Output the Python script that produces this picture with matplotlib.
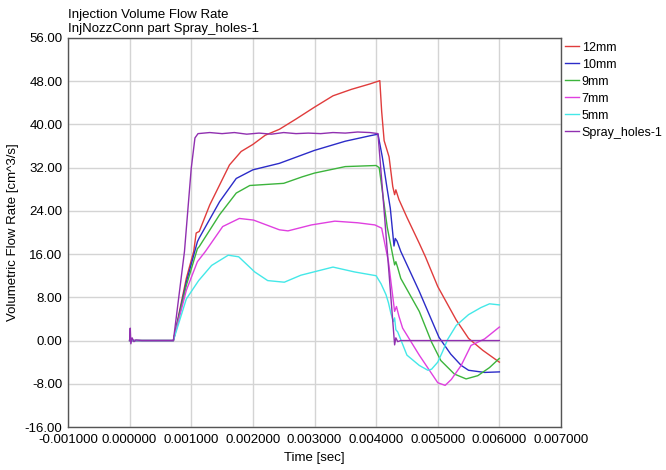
import matplotlib
matplotlib.use("Agg")
import matplotlib.pyplot as plt
from matplotlib.ticker import FormatStrFormatter, MultipleLocator

plt.rcParams['font.family'] = ['Liberation Sans', 'DejaVu Sans']

# Data (time in sec, flow in cm^3/s)
t_12 = [0, 0.00071, 0.00092, 0.00104, 0.00108, 0.00113, 0.0013, 0.00146, 0.00162, 0.00181,
        0.002, 0.0022, 0.00243, 0.0027, 0.003, 0.0033, 0.0036, 0.0039, 0.00406, 0.00409,
        0.00413, 0.00421, 0.00427, 0.0043, 0.00432, 0.00437, 0.0045, 0.0047, 0.0048, 0.005,
        0.0053, 0.0055, 0.00573, 0.006]
v_12 = [0, 0, 11.5, 16.5, 19.9, 20.2, 25.1, 28.8, 32.5, 35.0,
        36.3, 38.0, 39.1, 41.0, 43.2, 45.3, 46.5, 47.5, 48.1, 42.4,
        37.0, 34.0, 28.5, 27.0, 27.9, 26.1, 22.8, 18.0, 15.5, 10.0,
        3.8, 0.4, -1.8, -4.0]

t_10 = [0, 0.00071, 0.00092, 0.0011, 0.00113, 0.00146, 0.00173, 0.002, 0.00243, 0.003,
        0.0035, 0.0039, 0.00403, 0.0041, 0.00418, 0.00423, 0.00429, 0.00431, 0.00434, 0.0044,
        0.0047, 0.00502, 0.00521, 0.00538, 0.0055, 0.00576, 0.006]
v_10 = [0, 0, 10.8, 18.3, 19.0, 25.7, 30.0, 31.6, 32.8, 35.2,
        36.9, 37.9, 38.2, 34.0, 28.0, 24.5, 17.5, 18.9, 18.4, 16.5,
        9.1, 0.6, -2.5, -4.6, -5.5, -5.9, -5.8]

t_9 = [0, 0.00071, 0.00092, 0.0011, 0.00113, 0.00146, 0.00173, 0.00195, 0.0025, 0.0028,
       0.003, 0.0035, 0.004, 0.00405, 0.00412, 0.00418, 0.0043, 0.00432, 0.00435, 0.0044,
       0.0047, 0.0049, 0.00505, 0.00527, 0.00546, 0.00565, 0.00584, 0.006]
v_9 = [0, 0, 10.2, 17.0, 17.4, 23.3, 27.3, 28.7, 29.1, 30.3,
       31.0, 32.2, 32.4, 32.0, 26.0, 21.0, 14.0, 14.6, 13.5, 11.5,
       5.4, -0.3, -3.7, -6.2, -7.1, -6.5, -5.0, -3.3]

t_7 = [0, 0.00071, 0.00092, 0.0011, 0.00123, 0.00151, 0.00178, 0.00201, 0.00243, 0.00257,
       0.00295, 0.00333, 0.0037, 0.00398, 0.00409, 0.0042, 0.0043, 0.00433, 0.00437, 0.00443,
       0.0047, 0.005, 0.00512, 0.00522, 0.00538, 0.00554, 0.00576, 0.006]
v_7 = [0, 0, 9.3, 14.6, 16.5, 21.1, 22.6, 22.3, 20.5, 20.3,
       21.4, 22.1, 21.8, 21.4, 20.8, 14.6, 5.4, 6.3, 4.5, 2.3,
       -2.7, -7.8, -8.3, -7.2, -4.6, -0.9, 0.3, 2.5]

t_5 = [0, 0.00071, 0.00092, 0.00112, 0.00133, 0.0016, 0.00177, 0.00203, 0.00224, 0.00251,
       0.00278, 0.0033, 0.00365, 0.004, 0.00408, 0.00416, 0.0042, 0.00424, 0.00428, 0.0043,
       0.00432, 0.00435, 0.0045, 0.0047, 0.00484, 0.0049, 0.005, 0.00508, 0.00516, 0.0053,
       0.0055, 0.0057, 0.00584, 0.006]
v_5 = [0, 0, 7.7, 11.1, 13.9, 15.8, 15.5, 12.7, 11.1, 10.8,
       12.1, 13.6, 12.7, 12.0, 10.5, 8.5, 7.0, 5.0, 3.5, 4.2,
       2.0, 1.6, -2.7, -4.6, -5.5, -5.3, -4.0, -2.0, 0.2, 2.8,
       4.8, 6.1, 6.8, 6.6]

t_sh = [0, 0.00001, 0.00002, 0.00004, 0.00007, 0.0001, 0.0002, 0.00071, 0.00089, 0.001,
        0.00106, 0.00111, 0.0013, 0.0015, 0.0017, 0.0019, 0.0021, 0.0023, 0.0025, 0.0027,
        0.0029, 0.0031, 0.0033, 0.0035, 0.0037, 0.0039, 0.00403, 0.00413, 0.0043, 0.00432,
        0.00435, 0.0044, 0.005, 0.006]
v_sh = [0, 2.3, -0.6, 0.5, -0.2, 0.1, 0, 0, 16.5, 31.9,
        37.5, 38.3, 38.5, 38.3, 38.5, 38.2, 38.4, 38.2, 38.5, 38.3,
        38.4, 38.3, 38.5, 38.4, 38.6, 38.5, 38.3, 24.0, -0.8, 0.5,
        -0.2, 0, 0, 0]

labels = ["12mm", "10mm", "9mm", "7mm", "5mm", "Spray_holes-1"]
colors = ["#e03c3c", "#2c2cc8", "#3cb43c", "#e040e0", "#44e8e8", "#9030b0"]
series = [(t_12, v_12), (t_10, v_10), (t_9, v_9), (t_7, v_7), (t_5, v_5), (t_sh, v_sh)]

fig = plt.figure(figsize=(6.66, 4.70), dpi=100)
ax = fig.add_axes([68 / 666, 1 - 427 / 470, (561 - 68) / 666, (427 - 38) / 470])

for (t, v), lab, c in zip(series, labels, colors):
    ax.plot(t, v, color=c, lw=1.0, label=lab)

ax.set_xlim(-0.001, 0.007)
ax.set_ylim(-16, 56)
ax.xaxis.set_major_locator(MultipleLocator(0.001))
ax.yaxis.set_major_locator(MultipleLocator(8))
ax.xaxis.set_major_formatter(FormatStrFormatter('%.6f'))
ax.yaxis.set_major_formatter(FormatStrFormatter('%.2f'))
ax.grid(True, color='#d4d4d4', lw=1.0)
ax.set_axisbelow(True)
ax.tick_params(length=0, labelsize=9.5, colors='black')
ax.tick_params(axis='x', pad=5)
ax.tick_params(axis='y', pad=4)
for s in ax.spines.values():
    s.set_color('#555555')
    s.set_linewidth(1.0)

ax.set_xlabel("Time [sec]", fontsize=9.5)
ax.xaxis.set_label_coords(0.5, -(458 - 427) / 389)
ax.xaxis.label.set_va('center')
ax.set_ylabel("Volumetric Flow Rate [cm^3/s]", fontsize=9.5)
ax.yaxis.set_label_coords(-(68 - 13) / 493, 0.5)
ax.yaxis.label.set_va('center')

fig.text(68 / 666, 1 - 18 / 470, "Injection Volume Flow Rate", fontsize=9.5, va='baseline')
fig.text(68 / 666, 1 - 32 / 470, "InjNozzConn part Spray_holes-1", fontsize=9.5, va='baseline')

ax.legend(loc='upper left', bbox_to_anchor=(1.0, 1.0), frameon=False, fontsize=9,
          handlelength=1.15, handletextpad=0.2, labelspacing=0.4, borderaxespad=0.0,
          borderpad=0.3)

fig.savefig("out.png", dpi=100)
